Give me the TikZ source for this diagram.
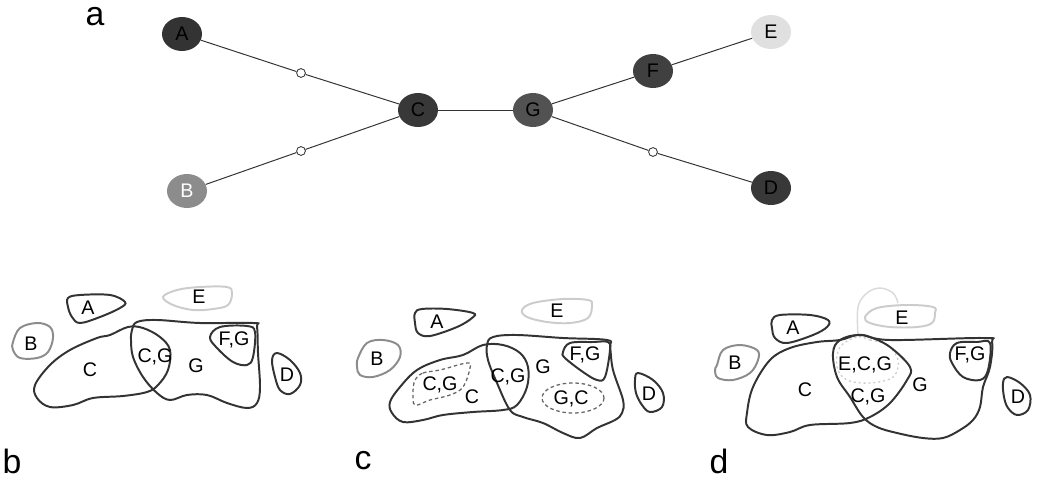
\documentclass[tikz,border=0pt]{standalone}
\usepackage{fontspec}
\setmainfont{Liberation Sans}
\usetikzlibrary{shapes.geometric}

\tikzset{
  vert/.style={ellipse, minimum width=1cm, minimum height=0.85cm, inner sep=0pt, font=\fontsize{14}{16}\selectfont},
  knot/.style={circle, draw=black!80, fill=white, minimum size=0.22cm, inner sep=0pt, line width=0.6pt},
  blobdark/.style={draw=black!80, line width=1.4pt},
  blobgray/.style={draw=black!45, line width=1.4pt},
  bloblight/.style={draw=black!20, line width=1.4pt},
  lab/.style={font=\fontsize{14}{16}\selectfont},
  panel/.style={font=\fontsize{24}{28}\selectfont}
}

\begin{document}
\begin{tikzpicture}[x=0.025cm, y=-0.025cm]
  \useasboundingbox (0,0) rectangle (1037,479);

  % tree
  \node[vert, fill=black!80] (A) at (182,34) {A};
  \node[vert, fill=black!45, text=white] (B) at (187,191) {B};
  \node[vert, fill=black!78] (C) at (418,110) {C};
  \node[vert, fill=black!68] (G) at (533,110) {G};
  \node[vert, fill=black!75] (F) at (653,71) {F};
  \node[vert, fill=black!12] (E) at (771,32) {E};
  \node[vert, fill=black!78] (D) at (771,188) {D};
  \node[knot] (k1) at (301,73) {};
  \node[knot] (k2) at (301,151) {};
  \node[knot] (k3) at (653,152) {};

  \draw[black!80, line width=0.7pt] (A) -- (k1) -- (C);
  \draw[black!80, line width=0.7pt] (B) -- (k2) -- (C);
  \draw[black!80, line width=0.7pt] (C) -- (G);
  \draw[black!80, line width=0.7pt] (G) -- (F) -- (E);
  \draw[black!80, line width=0.7pt] (G) -- (k3) -- (D);

  \node[panel] (la) at (95,17) {a};
  \node[panel] (lb) at (12,461) {b};
  \node[panel] (lc) at (363,461) {c};
  \node[panel] (ld) at (719,461) {d};

  % panel b
  \draw[blobdark] plot[smooth cycle, tension=0.6] coordinates {(68,298) (80,295) (110,295) (125,302) (120,308) (100,317) (80,323) (72,317) (68,307)};
  \draw[bloblight] plot[smooth cycle, tension=0.6] coordinates {(163,297) (177,290) (200,287) (227,287) (232,293) (228,305) (213,309) (193,310) (173,305)};
  \draw[blobgray] plot[smooth cycle, tension=0.6] coordinates {(13,342) (20,328) (37,323) (50,327) (53,338) (48,352) (37,358) (20,358) (13,350)};
  \draw[blobdark] plot[smooth cycle, tension=0.6] coordinates {(35,385) (50,365) (70,350) (97,338) (110,335) (128,327) (143,328) (160,337) (170,350) (168,370) (158,385) (147,392) (123,396) (93,398) (73,405) (50,407) (37,398)};
  \draw[blobdark] plot[smooth cycle, tension=0.6] coordinates {(132,330) (137,322) (157,320) (200,323) (253,323) (257,327) (258,353) (260,387) (257,403) (247,408) (227,403) (207,395) (187,395) (170,400) (157,393) (143,377) (133,357) (131,340)};
  \draw[blobdark] plot[smooth cycle, tension=0.6] coordinates {(210,337) (220,327) (247,326) (255,332) (253,357) (247,365) (233,362) (217,348)};
  \draw[blobdark] plot[smooth cycle, tension=0.6] coordinates {(272,360) (277,353) (290,360) (300,373) (300,385) (290,394) (280,390) (275,377)};
  \node[lab] (bA) at (88,308) {A};
  \node[lab] (bE) at (199,297) {E};
  \node[lab] (bB) at (31,344) {B};
  \node[lab] (bC) at (90,370) {C};
  \node[lab] (bCG) at (155,357) {C,G};
  \node[lab] (bG) at (196,366) {G};
  \node[lab] (bFG) at (234,340) {F,G};
  \node[lab] (bD) at (287,375) {D};

  % panel c
  \draw[blobdark] plot[smooth cycle, tension=0.6] coordinates {(415,313) (422,309) (447,309) (473,313) (472,318) (457,327) (430,336) (418,333) (415,323)};
  \draw[bloblight] plot[smooth cycle, tension=0.6] coordinates {(522,310) (533,303) (563,299) (588,300) (592,305) (588,318) (570,323) (547,322) (527,317)};
  \draw[blobgray] plot[smooth cycle, tension=0.6] coordinates {(358,358) (367,343) (383,340) (398,345) (400,357) (390,370) (373,377) (360,375) (357,367)};
  \draw[blobdark] plot[smooth cycle, tension=0.6] coordinates {(390,402) (400,387) (417,370) (440,360) (463,355) (483,345) (503,345) (520,353) (528,367) (527,387) (517,405) (503,410) (473,412) (443,415) (423,420) (403,422) (392,413)};
  \draw[blobdark] plot[smooth cycle, tension=0.6] coordinates {(487,345) (493,337) (517,335) (563,338) (607,340) (610,347) (613,370) (623,400) (622,413) (615,420) (597,428) (580,438) (563,433) (543,423) (523,417) (510,410) (497,383) (488,360)};
  \draw[blobdark] plot[smooth cycle, tension=0.6] coordinates {(563,352) (570,343) (593,342) (608,342) (610,350) (605,377) (597,380) (583,372) (565,358)};
  \draw[blobdark] plot[smooth cycle, tension=0.6] coordinates {(635,380) (638,373) (653,380) (663,393) (662,407) (650,412) (642,405) (636,393)};
  \draw[black!60, line width=0.9pt, dash pattern=on 2.5pt off 2pt] plot[smooth cycle, tension=0.6] coordinates {(415,380) (423,373) (440,370) (467,363) (470,368) (463,387) (450,395) (430,400) (415,405) (413,393)};
  \draw[black!60, line width=0.9pt, dash pattern=on 2.5pt off 2pt] (573,398) ellipse (31 and 15);
  \node[lab] (cA) at (437,322) {A};
  \node[lab] (cE) at (557,311) {E};
  \node[lab] (cB) at (377,359) {B};
  \node[lab] (cCGd) at (440,385) {C,G};
  \node[lab] (cC) at (472,397) {C};
  \node[lab] (cCG) at (508,377) {C,G};
  \node[lab] (cG) at (543,367) {G};
  \node[lab] (cFG) at (585,355) {F,G};
  \node[lab] (cGC) at (571,399) {G,C};
  \node[lab] (cD) at (649,394) {D};

  % panel d
  \draw[black!15, line width=1pt] plot[smooth, tension=0.6] coordinates {(858,335) (858,307) (867,293) (880,288) (893,293) (898,303)};
  \draw[blobdark] plot[smooth cycle, tension=0.6] coordinates {(772,320) (780,315) (810,315) (828,320) (827,327) (813,335) (787,343) (775,338) (772,328)};
  \draw[bloblight] plot[smooth cycle, tension=0.6] coordinates {(865,317) (877,308) (907,305) (933,307) (935,313) (932,323) (917,327) (890,327) (870,323)};
  \draw[blobgray] plot[smooth cycle, tension=0.6] coordinates {(717,365) (723,350) (740,345) (757,350) (758,360) (750,373) (733,380) (718,378) (715,370)};
  \draw[black!20, line width=0.9pt, dash pattern=on 1.5pt off 2pt] plot[smooth cycle, tension=0.6] coordinates {(857,337) (870,340) (887,345) (898,360) (893,377) (870,383) (847,380) (837,367) (840,347)};
  \draw[blobdark] plot[smooth cycle, tension=0.6] coordinates {(747,413) (753,387) (770,360) (790,348) (817,342) (840,340) (857,335) (870,337) (890,347) (910,367) (907,380) (890,403) (870,417) (850,423) (810,425) (790,432) (767,435) (748,427)};
  \draw[blobdark] plot[smooth cycle, tension=0.6] coordinates {(833,353) (840,340) (860,335) (890,340) (983,338) (992,342) (990,367) (983,387) (980,407) (973,420) (960,430) (943,438) (923,438) (897,433) (877,427) (863,417) (850,397) (837,377)};
  \draw[blobdark] plot[smooth cycle, tension=0.6] coordinates {(950,353) (957,343) (977,342) (990,343) (988,370) (980,380) (963,377) (952,363)};
  \draw[blobdark] plot[smooth cycle, tension=0.6] coordinates {(1003,383) (1007,377) (1020,383) (1030,395) (1028,410) (1017,415) (1008,408) (1004,397)};
  \node[lab] (dA) at (793,328) {A};
  \node[lab] (dE) at (902,318) {E};
  \node[lab] (dB) at (735,363) {B};
  \node[lab] (dC) at (805,390) {C};
  \node[lab] (dECG) at (865,365) {E,C,G};
  \node[lab] (dCG) at (868,397) {C,G};
  \node[lab] (dG) at (920,385) {G};
  \node[lab] (dFG) at (970,355) {F,G};
  \node[lab] (dD) at (1018,397) {D};
\end{tikzpicture}
\end{document}
